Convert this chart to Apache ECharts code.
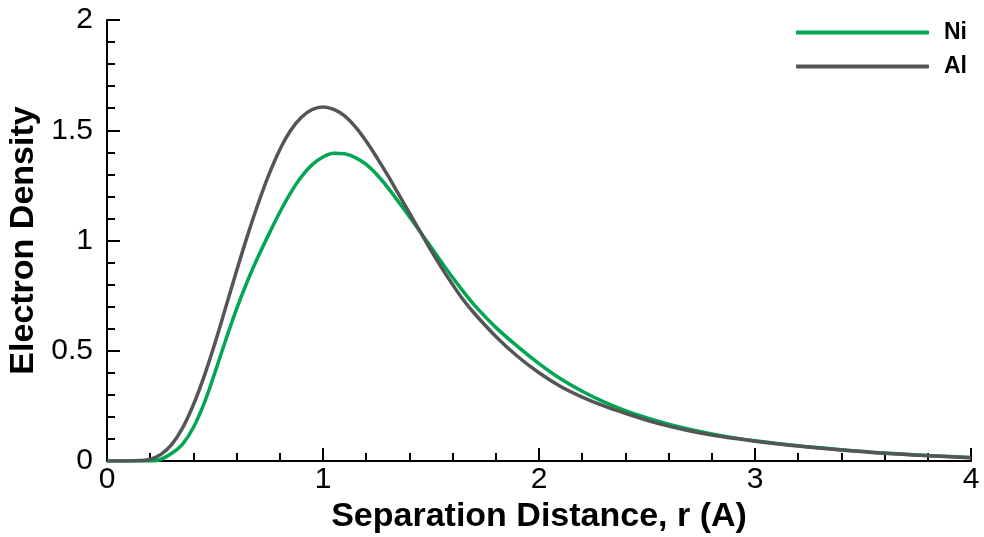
<!DOCTYPE html>
<html>
<head>
<meta charset="utf-8">
<script src="https://cdn.jsdelivr.net/npm/echarts@6/dist/echarts.min.js"></script>
<style>
html,body{margin:0;padding:0;background:#fff;}
#chart{width:984px;height:537px;}
</style>
</head>
<body>
<div id="chart"></div>
<script>
var rValues = [0, 0.1, 0.15, 0.2, 0.25, 0.3, 0.35, 0.4, 0.45, 0.5, 0.55, 0.6, 0.65, 0.7, 0.75, 0.8, 0.85, 0.9, 0.95, 1.0,
  1.05, 1.1, 1.15, 1.2, 1.25, 1.3, 1.35, 1.4, 1.45, 1.5, 1.55, 1.6, 1.65, 1.7, 1.8, 1.9, 2.0, 2.1, 2.2, 2.3,
  2.4, 2.5, 2.6, 2.7, 2.8, 2.9, 3.0, 3.2, 3.4, 3.6, 3.8, 4.0];
var niDensity = [0, 0, 0, 0, 0.008, 0.035, 0.077, 0.152, 0.262, 0.402, 0.55, 0.69, 0.815, 0.927, 1.03, 1.128, 1.216, 1.289, 1.344, 1.379,
  1.396, 1.393, 1.376, 1.345, 1.298, 1.24, 1.175, 1.108, 1.04, 0.97, 0.9, 0.832, 0.768, 0.708, 0.606, 0.52, 0.442, 0.373, 0.316, 0.268,
  0.228, 0.195, 0.167, 0.143, 0.123, 0.106, 0.092, 0.069, 0.051, 0.036, 0.025, 0.016];
var alDensity = [0, 0, 0.002, 0.008, 0.03, 0.075, 0.15, 0.255, 0.385, 0.535, 0.698, 0.863, 1.021, 1.168, 1.30, 1.412, 1.499, 1.559, 1.594, 1.606,
  1.595, 1.565, 1.515, 1.45, 1.375, 1.295, 1.21, 1.125, 1.04, 0.955, 0.875, 0.8, 0.73, 0.67, 0.565, 0.475, 0.4, 0.338, 0.29, 0.25,
  0.216, 0.185, 0.158, 0.136, 0.118, 0.103, 0.09, 0.068, 0.05, 0.035, 0.024, 0.015];
var xTicks = [0, 1, 2, 3, 4];
var yTicks = [0, 0.5, 1, 1.5, 2];
var seriesNames = ['Ni', 'Al'];

function pairs(ys){ return rValues.map(function(x,i){ return [x, ys[i]]; }); }

var font = '"Liberation Sans", Arial, sans-serif';
var chart = echarts.init(document.getElementById('chart'), null, {renderer:'canvas'});
chart.setOption({
  animation: false,
  backgroundColor: '#fff',
  grid: {left: 107, right: 13, top: 20, bottom: 76, containLabel: false, outerBoundsMode: 'none'},
  legend: {
    orient: 'vertical', left: 791, top: 16,
    itemWidth: 133, itemHeight: 4, itemGap: 11,
    icon: 'roundRect',
    textStyle: {fontFamily: font, fontSize: 23, fontWeight: 'bold', color: '#000', lineHeight: 22, padding: [0,0,0,10]},
    data: seriesNames
  },
  xAxis: {
    type: 'value', min: xTicks[0], max: xTicks[xTicks.length-1], interval: 1,
    name: 'Separation Distance, r (A)', nameLocation: 'middle', nameGap: 36,
    nameTextStyle: {fontFamily: font, fontSize: 34, fontWeight: 'bold', color: '#000'},
    axisLine: {show: true, lineStyle: {color: '#000', width: 2}},
    axisTick: {show: true, inside: true, length: 13, lineStyle: {color: '#000', width: 2}},
    minorTick: {show: true, splitNumber: 5, length: 8, lineStyle: {color: '#000', width: 2}},
    splitLine: {show: false},
    axisLabel: {fontFamily: font, fontSize: 30, color: '#000', margin: 4}
  },
  yAxis: {
    type: 'value', min: yTicks[0], max: yTicks[yTicks.length-1], interval: 0.5,
    name: 'Electron Density', nameLocation: 'middle', nameGap: 62, nameRotate: 90,
    nameTextStyle: {fontFamily: font, fontSize: 34, fontWeight: 'bold', color: '#000'},
    axisLine: {show: true, lineStyle: {color: '#000', width: 2}},
    axisTick: {show: true, inside: true, length: 13, lineStyle: {color: '#000', width: 2}},
    minorTick: {show: true, splitNumber: 5, length: 8, lineStyle: {color: '#000', width: 2}},
    splitLine: {show: false},
    axisLabel: {fontFamily: font, fontSize: 30, color: '#000', margin: 14}
  },
  series: [
    {name: seriesNames[0], type: 'line', data: pairs(niDensity), showSymbol: false, smooth: 0.35,
     lineStyle: {color: '#00a651', width: 3.5}, itemStyle: {color: '#00a651'}, z: 2},
    {name: seriesNames[1], type: 'line', data: pairs(alDensity), showSymbol: false, smooth: 0.35,
     lineStyle: {color: '#555555', width: 3.5}, itemStyle: {color: '#555555'}, z: 3}
  ]
});
</script>
</body>
</html>
